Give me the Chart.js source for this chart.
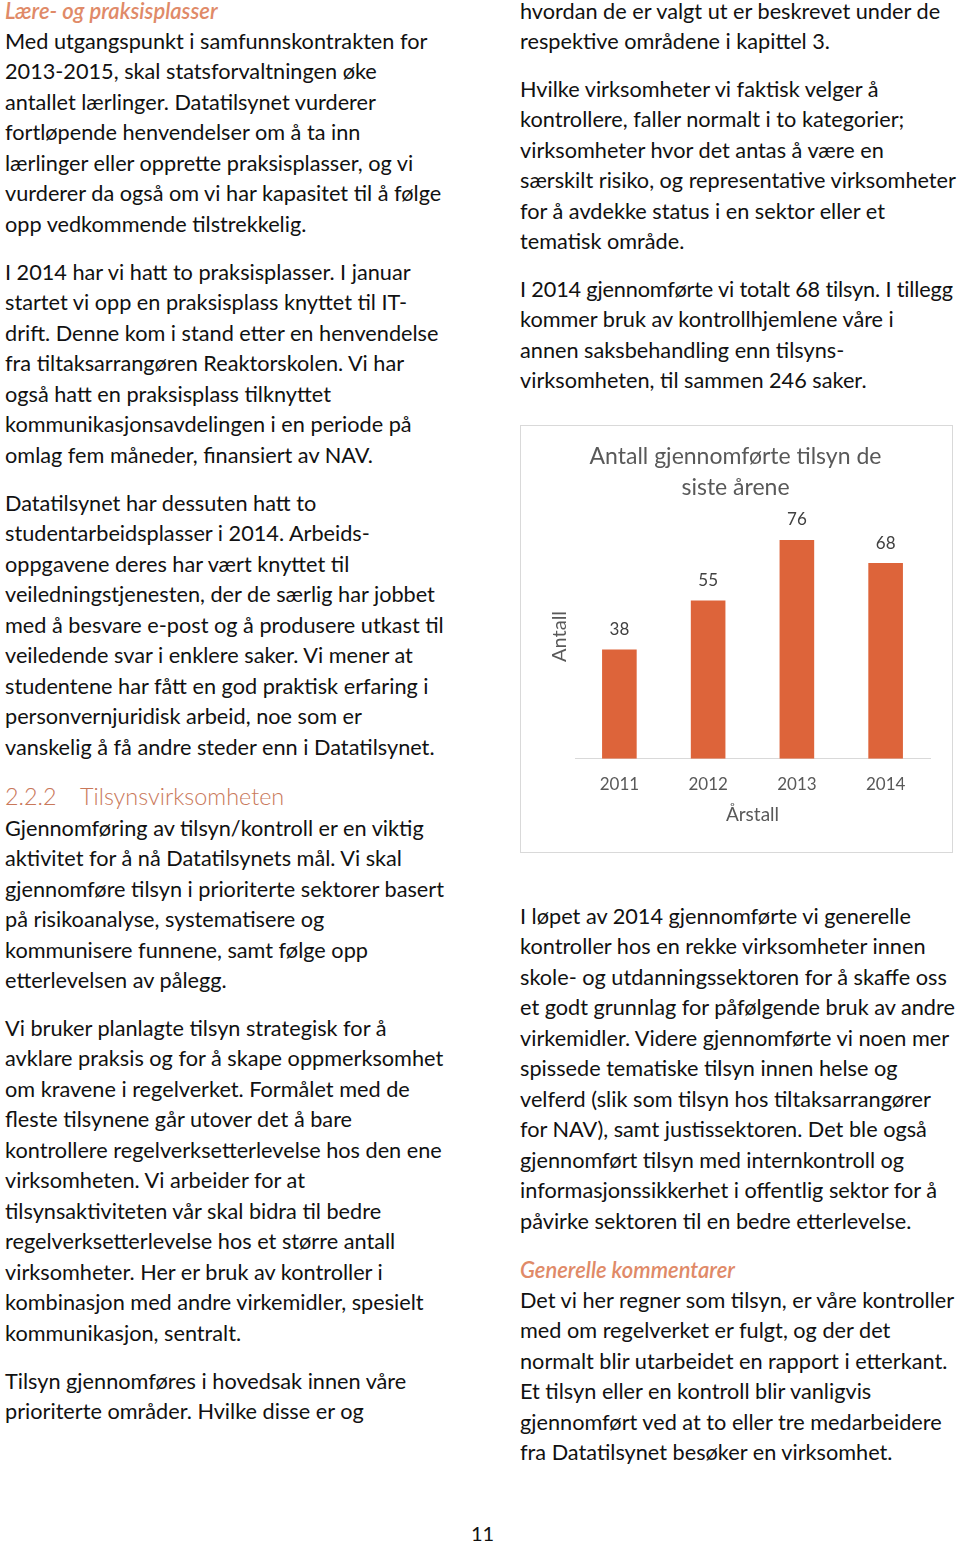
<!DOCTYPE html>
<html>
<head>
<meta charset="utf-8">
<script src="https://cdn.jsdelivr.net/npm/chart.js@4/dist/chart.umd.min.js"></script>
<style>
  html, body { margin: 0; padding: 0; background: #fff; }
  body { width: 960px; height: 1543px; position: relative; overflow: hidden;
         font-family: Lato, "Open Sans", sans-serif; color: #111; }
  .p { position: absolute; font-size: 21.7px; line-height: 30.5px; white-space: nowrap; }
  .h { position: absolute; white-space: nowrap; color: #e08a68; }
  .hi { font-style: italic; font-weight: 600; font-size: 22px; line-height: 24px; }
  .h2 { font-weight: 300; font-size: 23.4px; line-height: 26px; color: #c9785a; }
  .tight { letter-spacing: -0.16px; }
  #box { position: absolute; left: 520px; top: 425px; width: 431px; height: 426px;
         border: 1px solid #d9d9d9; background: #fff; }
  #pg { position: absolute; left: 471px; top: 1521px; font-size: 20px; line-height: 24px; }
</style>
</head>
<body>

<div class="h hi" style="left:5px; top:-1px;">Lære- og praksisplasser</div>
<div class="p" style="left:5px; top:25.75px;">Med utgangspunkt i samfunnskontrakten for<br>2013-2015, skal statsforvaltningen øke<br>antallet lærlinger. Datatilsynet vurderer<br>fortløpende henvendelser om å ta inn<br>lærlinger eller opprette praksisplasser, og vi<br>vurderer da også om vi har kapasitet til å følge<br>opp vedkommende tilstrekkelig.</div>
<div class="p" style="left:5px; top:256.75px;">I 2014 har vi hatt to praksisplasser. I januar<br>startet vi opp en praksisplass knyttet til IT-<br>drift. Denne kom i stand etter en henvendelse<br>fra tiltaksarrangøren Reaktorskolen. Vi har<br>også hatt en praksisplass tilknyttet<br>kommunikasjonsavdelingen i en periode på<br>omlag fem måneder, finansiert av NAV.</div>
<div class="p" style="left:5px; top:487.75px;">Datatilsynet har dessuten hatt to<br>studentarbeidsplasser i 2014. Arbeids-<br>oppgavene deres har vært knyttet til<br>veiledningstjenesten, der de særlig har jobbet<br>med å besvare e-post og å produsere utkast til<br>veiledende svar i enklere saker. Vi mener at<br>studentene har fått en god praktisk erfaring i<br>personvernjuridisk arbeid, noe som er<br>vanskelig å få andre steder enn i Datatilsynet.</div>
<div class="h h2" style="left:5px; top:783px;">2.2.2</div>
<div class="h h2" style="left:80px; top:783px;">Tilsynsvirksomheten</div>
<div class="p" style="left:5px; top:812.75px;">Gjennomføring av tilsyn/kontroll er en viktig<br>aktivitet for å nå Datatilsynets mål. Vi skal<br>gjennomføre tilsyn i prioriterte sektorer basert<br>på risikoanalyse, systematisere og<br>kommunisere funnene, samt følge opp<br>etterlevelsen av pålegg.</div>
<div class="p" style="left:5px; top:1012.75px;">Vi bruker planlagte tilsyn strategisk for å<br>avklare praksis og for å skape oppmerksomhet<br>om kravene i regelverket. Formålet med de<br>fleste tilsynene går utover det å bare<br>kontrollere regelverksetterlevelse hos den ene<br>virksomheten. Vi arbeider for at<br>tilsynsaktiviteten vår skal bidra til bedre<br>regelverksetterlevelse hos et større antall<br>virksomheter. Her er bruk av kontroller i<br>kombinasjon med andre virkemidler, spesielt<br>kommunikasjon, sentralt.</div>
<div class="p" style="left:5px; top:1365.75px;">Tilsyn gjennomføres i hovedsak innen våre<br>prioriterte områder. Hvilke disse er og</div>

<div class="p" style="left:520px; top:-4.25px;">hvordan de er valgt ut er beskrevet under de<br>respektive områdene i kapittel 3.</div>
<div class="p" style="left:520px; top:73.75px;">Hvilke virksomheter vi faktisk velger å<br>kontrollere, faller normalt i to kategorier;<br>virksomheter hvor det antas å være en<br>særskilt risiko, og representative virksomheter<br>for å avdekke status i en sektor eller et<br>tematisk område.</div>
<div class="p" style="left:520px; top:273.75px;"><span class="tight">I 2014 gjennomførte vi totalt 68 tilsyn. I tillegg</span><br>kommer bruk av kontrollhjemlene våre i<br>annen saksbehandling enn tilsyns-<br>virksomheten, til sammen 246 saker.</div>

<div id="box"><canvas id="c" width="431" height="426"></canvas></div>

<div class="p" style="left:520px; top:900.75px;">I løpet av 2014 gjennomførte vi generelle<br>kontroller hos en rekke virksomheter innen<br>skole- og utdanningssektoren for å skaffe oss<br>et godt grunnlag for påfølgende bruk av andre<br>virkemidler. Videre gjennomførte vi noen mer<br>spissede tematiske tilsyn innen helse og<br>velferd (slik som tilsyn hos tiltaksarrangører<br>for NAV), samt justissektoren. Det ble også<br>gjennomført tilsyn med internkontroll og<br>informasjonssikkerhet i offentlig sektor for å<br>påvirke sektoren til en bedre etterlevelse.</div>
<div class="h hi" style="left:520px; top:1258px;">Generelle kommentarer</div>
<div class="p" style="left:520px; top:1284.75px;">Det vi her regner som tilsyn, er våre kontroller<br>med om regelverket er fulgt, og der det<br>normalt blir utarbeidet en rapport i etterkant.<br>Et tilsyn eller en kontroll blir vanligvis<br>gjennomført ved at to eller tre medarbeidere<br>fra Datatilsynet besøker en virksomhet.</div>

<div id="pg">11</div>

<script>
const years = ['2011', '2012', '2013', '2014'];
const inspections = [38, 55, 76, 68];
const chartTitle = ['Antall gjennomførte tilsyn de', 'siste årene'];
const xTitle = 'Årstall';
const yTitle = 'Antall';
const yMax = 85;

const grey = '#595959';
const barColor = '#dd643a';
const fontFam = 'Lato, "Open Sans", sans-serif';

// verdier over søylene
const valueLabels = {
    id: 'valueLabels',
    afterDatasetsDraw(chart) {
        const ctx = chart.ctx;
        const meta = chart.getDatasetMeta(0);
        ctx.save();
        ctx.font = '17px ' + fontFam;
        ctx.fillStyle = '#404040';
        ctx.textAlign = 'center';
        ctx.textBaseline = 'middle';
        meta.data.forEach((bar, i) => {
            ctx.fillText(String(inspections[i]), bar.x, bar.y - 20);
        });
        ctx.restore();
    }
};

new Chart(document.getElementById('c'), {
    type: 'bar',
    data: {
        labels: years,
        datasets: [{
            label: yTitle,
            data: inspections,
            backgroundColor: barColor,
            barPercentage: 0.39,
            categoryPercentage: 1
        }]
    },
    options: {
        responsive: false,
        animation: false,
        layout: { padding: { left: 20, right: 22, top: 0, bottom: 22 } },
        plugins: {
            legend: { display: false },
            tooltip: { enabled: false },
            title: {
                display: true,
                text: chartTitle,
                color: grey,
                font: { family: fontFam, size: 23, weight: 'normal', lineHeight: 1.35 },
                padding: { top: 15, bottom: 11 }
            }
        },
        scales: {
            x: {
                grid: { display: false, drawTicks: false },
                border: { display: true, color: '#d9d9d9', width: 1 },
                ticks: { color: grey, padding: 16, font: { family: fontFam, size: 17 } },
                // tick-padding telles dobbelt i høyden, derfor negativ topp her
                title: { display: true, text: xTitle, color: grey, padding: { top: -8, bottom: 4 },
                         font: { family: fontFam, size: 19 } }
            },
            y: {
                min: 0,
                max: yMax,
                grid: { display: false, drawTicks: false },
                border: { display: false },
                ticks: { display: false },
                title: { display: true, text: yTitle, color: grey, padding: { top: 7, bottom: 3 },
                         font: { family: fontFam, size: 20 } }
            }
        }
    },
    plugins: [valueLabels]
});
</script>
</body>
</html>
